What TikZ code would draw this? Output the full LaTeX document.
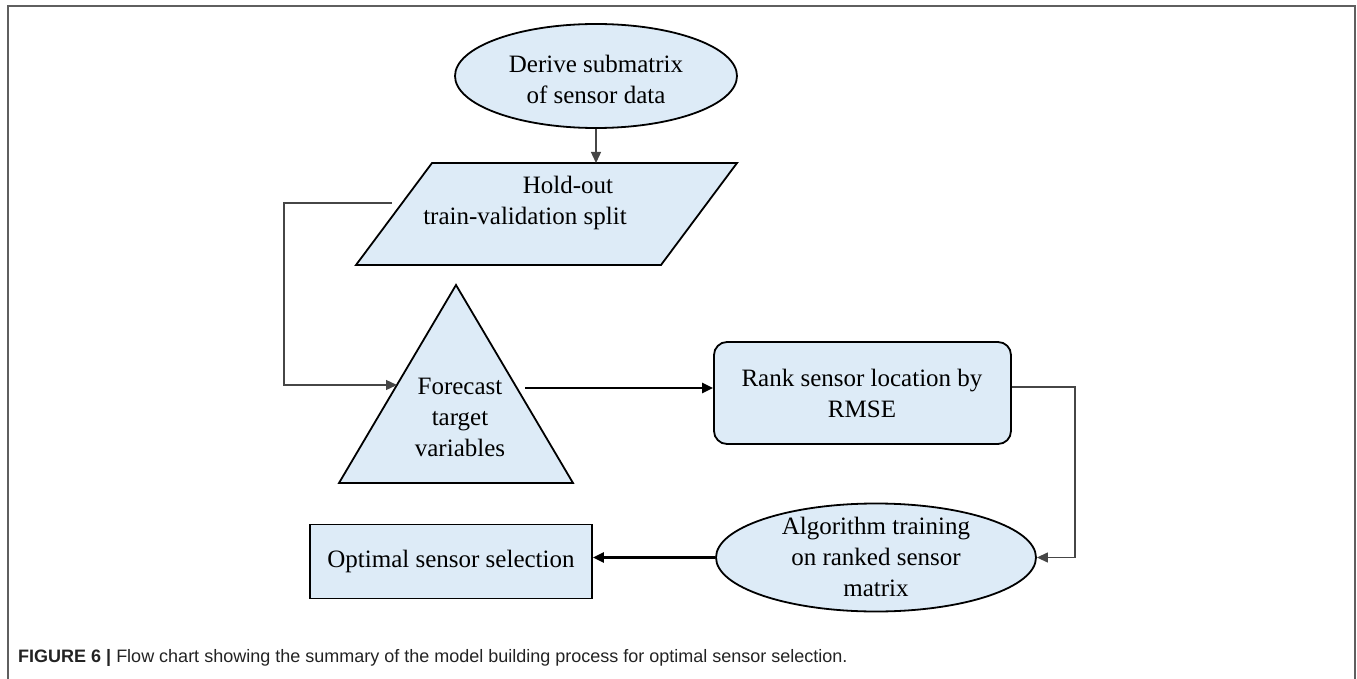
\documentclass[tikz,border=0pt]{standalone}
\usepackage{fontspec}
\setmainfont{Liberation Serif}
\newfontfamily\capfont{Liberation Sans}
\usetikzlibrary{arrows.meta,shapes.geometric}
\definecolor{boxfill}{RGB}{221,235,247}
\definecolor{framegray}{RGB}{95,95,95}
\definecolor{linegray}{RGB}{70,70,70}
\definecolor{captext}{RGB}{35,35,35}
\begin{document}
\begin{tikzpicture}[x=1pt,y=-1pt,
  shapebox/.style={draw=black,line width=1.8pt,fill=boxfill},
  txt/.style={font=\fontsize{25}{31}\selectfont,align=center,inner sep=0pt,text=black},
  conn/.style={draw=linegray,line width=1.3pt},
  thickconn/.style={draw=black,line width=2.4pt},
  tip/.style={-{Triangle[length=11pt,width=10pt]}}
]
\useasboundingbox (0,0) rectangle (1357,679);
\draw[framegray,line width=2pt] (8,679) -- (8,6) -- (1355,6) -- (1355,679);

% shapes
\node[shapebox,ellipse,minimum width=282pt,minimum height=104pt] (derive) at (596,76) {};
\node[txt] (derivetxt) at (596,79) {Derive submatrix\\of sensor data};

\draw[shapebox] (432,163) -- (737,163) -- (661,265) -- (356,265) -- cycle;
\coordinate (holdtop) at (596,163);
\coordinate (holdleft) at (392,203);
\node[txt] (holdtxt) at (525,203) {\hspace*{86pt}Hold-out\\train-validation split};

\draw[shapebox] (456,285) -- (573,483) -- (339,483) -- cycle;
\coordinate (triL) at (397,385);
\coordinate (triR) at (525,388);
\node[txt] (forecast) at (460,417) {Forecast\\target\\variables};

\node[shapebox,rounded corners=13pt,minimum width=297pt,minimum height=102pt] (rank) at (862.5,393) {};
\node[txt] (ranktxt) at (862,393.5) {Rank sensor location by\\RMSE};

\node[shapebox,ellipse,minimum width=320pt,minimum height=108pt] (algo) at (876,557.5) {};
\node[txt] (algotxt) at (876,557) {Algorithm training\\on ranked sensor\\matrix};

\node[shapebox,minimum width=282pt,minimum height=74pt] (optimal) at (451,561.5) {};
\node[txt] (optimaltxt) at (451,561) {Optimal sensor selection};

% connectors
\draw[conn,tip] (derive.south) -- (holdtop);
\draw[conn,tip] (holdleft) -- ++(-108,0) |- (triL);
\draw[thickconn,tip] (triR) -- (rank.west |- triR);
\draw[conn,tip] ([yshift=6pt]rank.east) -- ++(63,0) |- (algo.east);
\draw[thickconn,tip] (algo.west) -- (optimal.east |- algo.west);

% caption
\node[anchor=base west,inner sep=0pt,text=captext,font=\capfont\fontsize{18}{22}\selectfont] (caption) at (18,662) {\textbf{FIGURE 6 |} Flow chart showing the summary of the model building process for optimal sensor selection.};
\end{tikzpicture}
\end{document}
